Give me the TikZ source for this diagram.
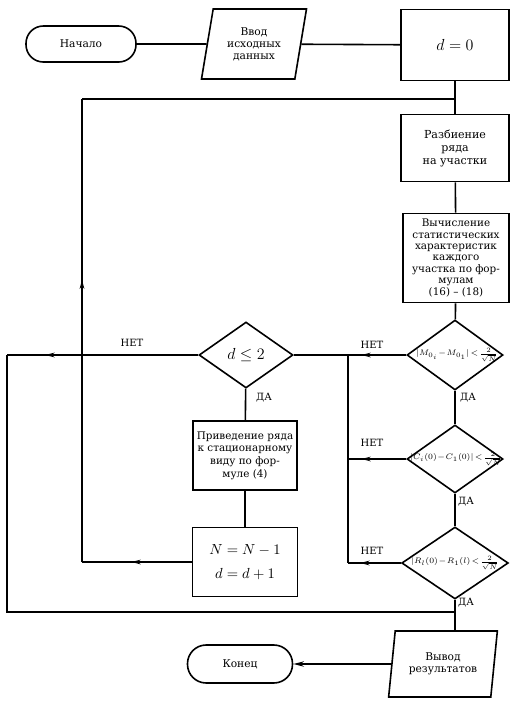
\documentclass[tikz,border=0pt]{standalone}
\usepackage{fontspec}
\setmainfont{DejaVu Serif}
\usetikzlibrary{shapes.geometric,decorations.markings,arrows.meta}
\begin{document}
\begin{tikzpicture}[x=0.75pt,y=-0.75pt,
  line width=1.2pt,
  every node/.style={font=\fontsize{8}{9}\selectfont},
  proc/.style={draw, rectangle, align=center, inner sep=1pt},
  term/.style={draw, rectangle, rounded corners=13pt, align=center},
  io/.style={draw, trapezium, trapezium left angle=77, trapezium right angle=103, trapezium stretches=true, align=center, inner sep=0pt},
  dia/.style={draw, diamond, inner sep=0pt},
  lbl/.style={font=\fontsize{7.5}{9}\selectfont},
  frm/.style={font=\fontsize{6.4}{7.5}\selectfont, inner sep=0pt},
  big/.style={font=\fontsize{12}{14}\selectfont},
  midarrow/.style={postaction={decorate}, decoration={markings, mark=at position #1 with {\arrow{Stealth[length=7pt,width=3.5pt]}}}},
]
\useasboundingbox (0,0) rectangle (528,708);

% nodes
\node[term, minimum width=82.5pt, minimum height=27pt] (start) at (81,44) {Начало};
\node[io, minimum width=78.75pt, minimum height=52.5pt] (inp) at (254,44) {Ввод\\исходных\\данных};
\node[proc, minimum width=81pt, minimum height=53.25pt, big] (d0) at (455,45) {$d = 0$};
\node[proc, minimum width=81pt, minimum height=50.25pt, font=\fontsize{8.3}{9.75}\selectfont] (split) at (455,148) {Разбиение\\ряда\\на участки};
\node[proc, minimum width=79.5pt, minimum height=66.75pt, font=\fontsize{7.8}{8.6}\selectfont] (calc) at (456,258) {Вычисление\\статистических\\характеристик\\каждого\\участка по фор-\\мулам\\(16) -- (18)};

\node[dia, minimum width=72pt, minimum height=52.5pt] (D1) at (455,355) {};
\node[frm] (D1t) at (457,355) {$|M_{0_i}\!-\!M_{0_1}|\!<\!\frac{2}{\sqrt{N}}$};
\node[dia, minimum width=72pt, minimum height=51pt] (D2) at (455,459) {};
\node[frm] (D2t) at (456,459) {$|C_i(0)\!-\!C_1(0)|\!<\!\frac{2}{\sqrt{N}}$};
\node[dia, minimum width=80pt, minimum height=54pt] (D3) at (455,563) {};
\node[frm] (D3t) at (455,563) {$|R_l(0)\!-\!R_1(l)\!<\!\frac{2}{\sqrt{N}}$};

\node[dia, minimum width=70.5pt, minimum height=49.5pt] (dle) at (246,355) {};
\node[big, inner sep=0pt] (dlet) at (dle) {$d \le 2$};
\node[proc, minimum width=78pt, minimum height=51.75pt, font=\fontsize{7.8}{9.5}\selectfont] (prep) at (245,455.5) {Приведение ряда\\к стационарному\\виду по фор-\\муле (4)};
\node[proc, minimum width=78.75pt, minimum height=51.75pt, font=\fontsize{11}{18}\selectfont] (nbox) at (245,562) {$N = N - 1$\\$d = d + 1$};

\node[io, minimum width=81.75pt, minimum height=49.5pt, trapezium left angle=78, trapezium right angle=102] (out) at (443,664) {Вывод\\результатов};
\node[term, minimum width=78.75pt, minimum height=28.5pt, rounded corners=14pt] (end) at (240,664) {Конец};

% coordinates
\coordinate (j1) at (455,99);
\coordinate (lt) at (82,99);
\coordinate (lb) at (82,562);
\coordinate (n1) at (348,355);
\coordinate (n2) at (348,459);
\coordinate (n3) at (348,563);
\coordinate (ll) at (7,355);
\coordinate (lbot) at (7,612);
\coordinate (jb) at (455,612);

% labels
\node[lbl] (net0) at (132,343) {НЕТ};
\node[lbl] (net1) at (372,345) {НЕТ};
\node[lbl] (net2) at (372,443) {НЕТ};
\node[lbl] (net3) at (372,551) {НЕТ};
\node[lbl] (da0) at (264,398) {ДА};
\node[lbl] (da1) at (468,398) {ДА};
\node[lbl] (da2) at (466,502) {ДА};
\node[lbl] (da3) at (466,603) {ДА};

% connectors
\draw (start) -- (inp);
\draw (inp) -- (d0);
\draw (d0) -- (split);
\draw (split) -- (calc);
\draw (calc) -- (D1);
\draw (D1) -- (D2);
\draw (D2) -- (D3);
\draw (D3.south) -- (D3.south |- out.north);

\draw[midarrow=0.77] (D1.west) -- (n1);
\draw[midarrow=0.77] (D2.west) -- (n2);
\draw[midarrow=0.77] (D3.west) -- (n3);
\draw (n1) -- (n3);
\draw (n1) -- (dle.east);

\draw[midarrow=0.8] (dle.west) -- (ll);
\draw (ll) -- (lbot) -- (jb);

\draw (dle) -- (prep);
\draw (prep) -- (nbox);
\draw[midarrow=0.55] (nbox.west) -- (lb);
\draw[midarrow=0.61] (lb) -- (lt);
\draw (lt) -- (j1);

\draw[-{Stealth[length=8pt,width=4pt]}] (out) -- (end);
\end{tikzpicture}
\end{document}
